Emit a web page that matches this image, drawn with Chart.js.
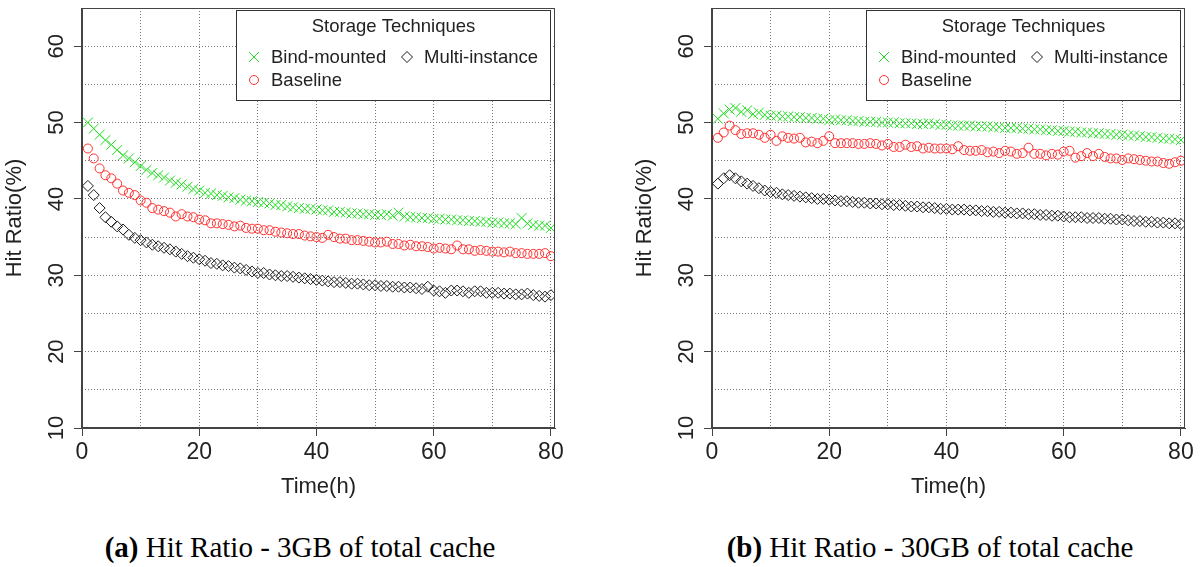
<!DOCTYPE html>
<html>
<head>
<meta charset="utf-8">
<script src="https://cdn.jsdelivr.net/npm/chart.js@4.4.0/dist/chart.umd.min.js"></script>
<style>
  body { margin: 0; background: #fff; width: 1200px; height: 567px; position: relative; overflow: hidden; }
  .panel { position: absolute; top: 0; width: 570px; height: 510px; }
  .caption { position: absolute; top: 531px; width: 600px; text-align: center; font-family: "Liberation Serif", serif; font-size: 29px; line-height: 32px; color: #000; }
</style>
</head>
<body>
<div class="panel" style="left:0"><canvas id="chart0" width="570" height="510"></canvas></div>
<div class="panel" style="left:630px"><canvas id="chart1" width="570" height="510"></canvas></div>
<div class="caption" style="left:0"><b>(a)</b> Hit Ratio - 3GB of total cache</div>
<div class="caption" style="left:630px"><b>(b)</b> Hit Ratio - 30GB of total cache</div>
<script>
// time axis, one sample per hour
const hours = [
  1, 2, 3, 4, 5, 6, 7, 8, 9, 10, 11, 12, 13, 14, 15, 16, 17, 18, 19, 20,
  21, 22, 23, 24, 25, 26, 27, 28, 29, 30, 31, 32, 33, 34, 35, 36, 37, 38, 39, 40,
  41, 42, 43, 44, 45, 46, 47, 48, 49, 50, 51, 52, 53, 54, 55, 56, 57, 58, 59, 60,
  61, 62, 63, 64, 65, 66, 67, 68, 69, 70, 71, 72, 73, 74, 75, 76, 77, 78, 79, 80
];

// (a) 3GB of total cache
const bindMounted3 = [
  50.0, 49.2, 48.4, 47.7, 47.1, 46.4, 45.7, 45.3, 44.8, 44.3,
  43.8, 43.4, 43.1, 42.8, 42.4, 42.1, 41.9, 41.6, 41.3, 41.1,
  40.8, 40.7, 40.5, 40.4, 40.2, 40.1, 39.9, 39.8, 39.7, 39.6,
  39.5, 39.4, 39.2, 39.2, 39.0, 38.9, 38.8, 38.7, 38.7, 38.6,
  38.5, 38.5, 38.3, 38.3, 38.2, 38.1, 38.1, 38.0, 38.0, 37.9,
  37.9, 38.0, 37.8, 38.2, 37.7, 37.6, 37.6, 37.5, 37.5, 37.4,
  37.4, 37.3, 37.3, 37.2, 37.2, 37.1, 37.1, 37.0, 37.0, 36.9,
  36.9, 36.8, 36.8, 36.7, 37.5, 36.8, 36.6, 36.5, 36.5, 36.2
];
const baseline3 = [
  46.6, 45.3, 44.0, 43.1, 42.7, 42.0, 41.1, 40.8, 40.5, 39.8,
  39.5, 38.8, 38.6, 38.4, 38.2, 37.7, 38.0, 37.7, 37.6, 37.3,
  37.2, 36.8, 36.8, 36.7, 36.6, 36.4, 36.5, 36.2, 36.1, 36.1,
  35.9, 35.9, 35.7, 35.6, 35.5, 35.4, 35.4, 35.2, 35.1, 35.0,
  34.9, 35.3, 35.0, 34.8, 34.8, 34.6, 34.6, 34.5, 34.4, 34.3,
  34.3, 34.4, 34.1, 34.1, 33.9, 34.0, 33.8, 33.8, 33.7, 33.5,
  33.6, 33.5, 33.4, 33.9, 33.4, 33.4, 33.2, 33.3, 33.2, 33.1,
  33.1, 33.0, 33.1, 32.9, 32.9, 32.8, 32.8, 32.8, 32.9, 32.5
];
const multiInstance3 = [
  41.7, 40.5, 38.8, 37.6, 37.0, 36.4, 36.0, 35.3, 34.9, 34.6,
  34.3, 34.0, 33.8, 33.6, 33.4, 33.1, 32.8, 32.5, 32.3, 32.1,
  31.9, 31.6, 31.5, 31.3, 31.2, 31.0, 30.9, 30.7, 30.5, 30.3,
  30.3, 30.1, 30.0, 29.9, 29.9, 29.8, 29.7, 29.6, 29.5, 29.4,
  29.3, 29.2, 29.1, 29.1, 29.0, 28.9, 28.9, 28.8, 28.7, 28.7,
  28.6, 28.6, 28.5, 28.5, 28.4, 28.4, 28.3, 28.2, 28.5, 28.0,
  27.9, 27.7, 28.0, 28.0, 27.9, 27.7, 27.9, 27.9, 27.7, 27.7,
  27.7, 27.6, 27.6, 27.5, 27.5, 27.6, 27.4, 27.3, 27.2, 27.4
];

// (b) 30GB of total cache
const bindMounted30 = [
  50.5, 51.2, 51.7, 51.9, 51.4, 51.6, 51.1, 51.3, 51.0, 50.9,
  50.9, 50.8, 50.8, 50.7, 50.7, 50.6, 50.6, 50.5, 50.5, 50.3,
  50.4, 50.3, 50.3, 50.2, 50.2, 50.1, 50.1, 50.1, 50.0, 50.0,
  50.0, 49.9, 49.9, 49.9, 49.8, 49.8, 49.9, 49.8, 49.7, 49.7,
  49.6, 49.6, 49.6, 49.6, 49.5, 49.5, 49.5, 49.4, 49.4, 49.3,
  49.3, 49.3, 49.2, 49.2, 49.1, 49.1, 49.0, 49.0, 48.9, 48.9,
  48.8, 48.8, 48.7, 48.7, 48.6, 48.6, 48.5, 48.5, 48.4, 48.4,
  48.3, 48.3, 48.2, 48.1, 48.1, 48.0, 47.9, 47.9, 47.8, 47.7
];
const baseline30 = [
  48.0, 48.7, 49.6, 49.0, 48.5, 48.6, 48.6, 48.4, 48.0, 48.4,
  47.6, 48.2, 48.0, 47.9, 48.0, 47.4, 47.5, 47.3, 47.6, 48.2,
  47.3, 47.3, 47.3, 47.3, 47.2, 47.2, 47.3, 47.2, 47.0, 47.2,
  46.8, 46.8, 47.1, 46.8, 46.9, 46.6, 46.7, 46.6, 46.6, 46.6,
  46.5, 46.9, 46.4, 46.3, 46.3, 46.4, 46.1, 46.2, 46.0, 46.3,
  46.2, 45.9, 46.0, 46.7, 45.9, 45.9, 45.7, 45.9, 45.8, 46.2,
  46.3, 45.4, 45.6, 46.0, 45.6, 45.9, 45.5, 45.3, 45.3, 45.1,
  45.3, 45.2, 45.1, 45.0, 44.9, 44.9, 44.7, 44.6, 44.8, 45.0
];
const multiInstance30 = [
  42.0, 42.7, 43.1, 42.7, 42.3, 42.0, 41.7, 41.4, 41.1, 40.9,
  40.8, 40.6, 40.5, 40.4, 40.3, 40.2, 40.1, 40.0, 40.0, 39.9,
  39.8, 39.7, 39.7, 39.6, 39.5, 39.5, 39.4, 39.4, 39.3, 39.3,
  39.2, 39.2, 39.1, 39.0, 39.0, 38.9, 38.9, 38.8, 38.7, 38.7,
  38.6, 38.6, 38.6, 38.5, 38.5, 38.4, 38.4, 38.3, 38.3, 38.2,
  38.2, 38.1, 38.1, 38.0, 38.0, 37.9, 37.9, 37.8, 37.8, 37.7,
  37.6, 37.6, 37.6, 37.5, 37.5, 37.5, 37.4, 37.4, 37.3, 37.3,
  37.2, 37.1, 37.1, 37.0, 37.0, 36.9, 36.9, 36.8, 36.8, 36.7
];

const xTicks = [0, 20, 40, 60, 80];
const yTicks = [10, 20, 30, 40, 50, 60];
const xGrid = [10, 20, 30, 40, 50, 60, 70, 80];
const yGrid = [15, 20, 25, 30, 35, 40, 45, 50, 55, 60];
const seriesNames = ['Bind-mounted', 'Multi-instance', 'Baseline'];
const legendTitle = 'Storage Techniques';
const xTitle = 'Time(h)';
const yTitle = 'Hit Ratio(%)';

const GREEN = '#22dd22';
const RED = '#ff3030';
const BLACK = '#1c1c1c';
const AXIS = '#444';
const TEXT = '#222';
const FONT = 'Liberation Sans';

function points(values)
{
  return values.map((v, i) => ({x: hours[i], y: v}));
}

// box, rotated y labels and the R style legend
const frame =
{
  id: 'frame',
  afterDraw(chart)
  {
    const ctx = chart.ctx;
    const a = chart.chartArea;
    const ys = chart.scales.y;
    ctx.save();
    ctx.strokeStyle = AXIS;
    ctx.lineWidth = 1;
    ctx.strokeRect(Math.round(a.left) - 0.5, Math.round(a.top) + 0.5, Math.round(a.right - a.left), Math.round(a.bottom - a.top) - 1);
    ctx.fillStyle = TEXT;
    ctx.font = '22px "' + FONT + '"';
    ctx.textAlign = 'center';
    ctx.textBaseline = 'alphabetic';
    for (const t of ys.ticks)
    {
      ctx.save();
      ctx.translate(a.left - 19, ys.getPixelForValue(t.value));
      ctx.rotate(-Math.PI / 2);
      ctx.fillText(String(t.value), 0, 0);
      ctx.restore();
    }
    // legend box
    const lx = 236.5, ly = 10.5, lw = 314, lh = 90;
    ctx.fillStyle = '#fff';
    ctx.fillRect(lx, ly, lw, lh);
    ctx.strokeStyle = '#333';
    ctx.strokeRect(lx, ly, lw, lh);
    ctx.fillStyle = TEXT;
    ctx.font = '18.5px "' + FONT + '"';
    ctx.textBaseline = 'middle';
    ctx.fillText(legendTitle, lx + lw / 2, 27);
    ctx.textAlign = 'left';
    const items = [[254, 57, 271], [407, 57, 424], [254, 80, 271]];
    chart.data.datasets.forEach((d, i) =>
    {
      const [sx, sy, tx] = items[i];
      ctx.strokeStyle = d.borderColor;
      ctx.lineWidth = 1;
      ctx.beginPath();
      if (d.pointStyle == 'crossRot')
      {
        ctx.moveTo(sx - 5, sy - 5); ctx.lineTo(sx + 5, sy + 5);
        ctx.moveTo(sx + 5, sy - 5); ctx.lineTo(sx - 5, sy + 5);
      }
      else if (d.pointStyle == 'rectRot')
      {
        ctx.moveTo(sx - 5.5, sy); ctx.lineTo(sx, sy - 5.5); ctx.lineTo(sx + 5.5, sy); ctx.lineTo(sx, sy + 5.5); ctx.closePath();
      }
      else
      {
        ctx.arc(sx, sy, 4.5, 0, Math.PI * 2);
      }
      ctx.stroke();
      ctx.fillStyle = TEXT;
      ctx.fillText(d.label, tx, sy + 1);
    });
    ctx.restore();
  }
};

function makeChart(id, bm, mi, bl)
{
  const tickFont = {family: FONT, size: 23};
  const titleFont = {family: FONT, size: 22};
  return new Chart(document.getElementById(id),
  {
    type: 'scatter',
    data:
    {
      datasets:
      [
        {label: seriesNames[0], data: points(bm), pointStyle: 'crossRot', pointRadius: 7, borderColor: GREEN, backgroundColor: 'rgba(0,0,0,0)', borderWidth: 1},
        {label: seriesNames[1], data: points(mi), pointStyle: 'rectRot', pointRadius: 5.5, borderColor: BLACK, backgroundColor: 'rgba(0,0,0,0)', borderWidth: 1},
        {label: seriesNames[2], data: points(bl), pointStyle: 'circle', pointRadius: 4.5, borderColor: RED, backgroundColor: 'rgba(0,0,0,0)', borderWidth: 1}
      ]
    },
    options:
    {
      responsive: false,
      animation: false,
      events: [],
      layout: {padding: {top: 6, right: 15, bottom: 0, left: 0}},
      plugins: {legend: {display: false}, tooltip: {enabled: false}},
      scales:
      {
        x:
        {
          type: 'linear', position: 'bottom', min: 0, max: 80.7,
          afterBuildTicks: (s) => { s.ticks = xTicks.map((v) => ({value: v})); },
          afterFit: (s) => { s.height = 82; },
          grid: {drawOnChartArea: false, drawTicks: true, tickLength: 8, tickColor: AXIS, color: AXIS},
          border: {display: true, color: AXIS, width: 1},
          ticks: {autoSkip: false, maxRotation: 0, color: TEXT, font: tickFont, padding: 3},
          title: {display: true, text: xTitle, color: TEXT, font: titleFont, padding: {top: 0, bottom: 10}}
        },
        xg:
        {
          type: 'linear', position: 'bottom', min: 0, max: 80.7,
          afterBuildTicks: (s) => { s.ticks = xGrid.map((v) => ({value: v})); },
          afterFit: (s) => { s.height = 0; },
          grid: {drawTicks: false, color: '#777', lineWidth: 1},
          border: {display: false, dash: [1, 2]},
          ticks: {display: false}
        },
        y:
        {
          type: 'linear', position: 'left', min: 10, max: 65,
          afterBuildTicks: (s) => { s.ticks = yTicks.map((v) => ({value: v})); },
          afterFit: (s) => { s.width = 82; },
          grid: {drawOnChartArea: false, drawTicks: true, tickLength: 8, tickColor: AXIS, color: AXIS},
          border: {display: true, color: AXIS, width: 1},
          ticks: {display: false},
          title: {display: true, text: yTitle, color: TEXT, font: titleFont, padding: {top: 2, bottom: 0}}
        },
        yg:
        {
          type: 'linear', position: 'left', min: 10, max: 65,
          afterBuildTicks: (s) => { s.ticks = yGrid.map((v) => ({value: v})); },
          afterFit: (s) => { s.width = 0; },
          grid: {drawTicks: false, color: '#777', lineWidth: 1},
          border: {display: false, dash: [1, 2]},
          ticks: {display: false}
        }
      }
    },
    plugins: [frame]
  });
}

makeChart('chart0', bindMounted3, multiInstance3, baseline3);
makeChart('chart1', bindMounted30, multiInstance30, baseline30);
</script>
</body>
</html>
